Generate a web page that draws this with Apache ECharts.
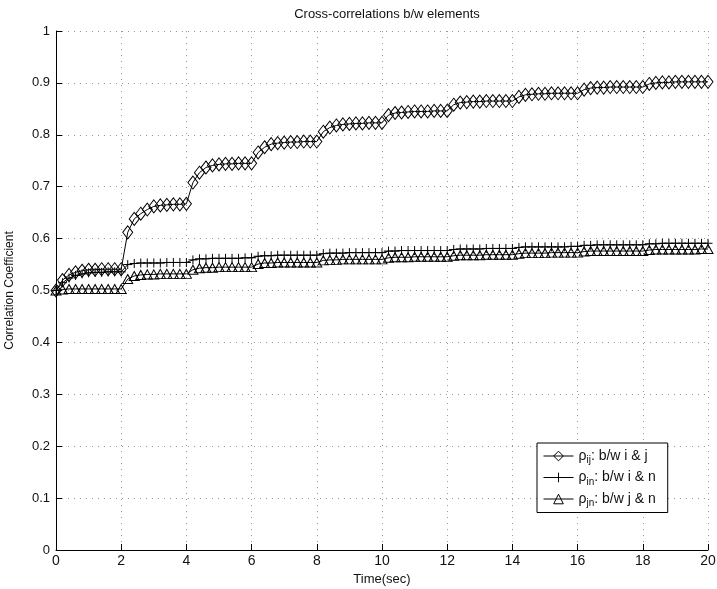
<!DOCTYPE html>
<html>
<head>
<meta charset="utf-8">
<script src="https://cdn.jsdelivr.net/npm/echarts@6/dist/echarts.min.js"></script>
<style>html,body{margin:0;padding:0;background:#fff}#c{width:717px;height:589px}</style>
</head>
<body>
<div id="c"></div>
<script>
var times = [0,0.2,0.4,0.6,0.8,1,1.2,1.4,1.6,1.8,2,2.2,2.4,2.6,2.8,3,3.2,3.4,3.6,3.8,4,4.2,4.4,4.6,4.8,5,5.2,5.4,5.6,5.8,6,6.2,6.4,6.6,6.8,7,7.2,7.4,7.6,7.8,8,8.2,8.4,8.6,8.8,9,9.2,9.4,9.6,9.8,10,10.2,10.4,10.6,10.8,11,11.2,11.4,11.6,11.8,12,12.2,12.4,12.6,12.8,13,13.2,13.4,13.6,13.8,14,14.2,14.4,14.6,14.8,15,15.2,15.4,15.6,15.8,16,16.2,16.4,16.6,16.8,17,17.2,17.4,17.6,17.8,18,18.2,18.4,18.6,18.8,19,19.2,19.4,19.6,19.8,20];

var rhoIJ = [0.500,0.520,0.530,0.535,0.538,0.540,0.540,0.541,0.541,0.541,0.541,
 0.612,0.638,0.648,0.656,0.662,0.664,0.665,0.666,0.666,0.667,
 0.708,0.727,0.737,0.741,0.743,0.744,0.744,0.745,0.745,0.745,
 0.766,0.776,0.782,0.784,0.785,0.786,0.786,0.787,0.787,0.787,
 0.806,0.814,0.818,0.820,0.821,0.822,0.822,0.823,0.823,0.823,
 0.838,0.842,0.843,0.844,0.845,0.845,0.845,0.846,0.846,0.846,
 0.858,0.862,0.863,0.864,0.864,0.865,0.865,0.865,0.865,0.865,
 0.873,0.877,0.878,0.879,0.879,0.880,0.880,0.880,0.880,0.880,
 0.887,0.890,0.891,0.891,0.892,0.892,0.892,0.892,0.892,0.892,
 0.898,0.900,0.901,0.901,0.902,0.902,0.902,0.902,0.902,0.902];

var rhoIN = [0.500,0.515,0.524,0.529,0.532,0.534,0.535,0.535,0.536,0.536,0.536,
 0.550,0.552,0.553,0.553,0.553,0.553,0.554,0.554,0.554,0.554,
 0.559,0.561,0.561,0.562,0.562,0.562,0.562,0.562,0.563,0.563,
 0.566,0.567,0.567,0.568,0.568,0.568,0.568,0.568,0.568,0.568,
 0.571,0.572,0.572,0.572,0.573,0.573,0.573,0.573,0.573,0.573,
 0.576,0.576,0.577,0.577,0.577,0.577,0.577,0.577,0.577,0.577,
 0.579,0.580,0.580,0.580,0.580,0.581,0.581,0.581,0.581,0.581,
 0.583,0.584,0.584,0.584,0.584,0.584,0.584,0.584,0.585,0.585,
 0.587,0.587,0.588,0.588,0.588,0.588,0.588,0.588,0.588,0.588,
 0.590,0.590,0.591,0.591,0.591,0.591,0.591,0.591,0.591,0.591];

var rhoJN = [0.500,0.502,0.503,0.503,0.503,0.503,0.503,0.503,0.503,0.503,0.503,
 0.522,0.528,0.530,0.531,0.531,0.532,0.532,0.532,0.532,0.532,
 0.540,0.543,0.544,0.544,0.545,0.545,0.545,0.545,0.545,0.545,
 0.551,0.553,0.553,0.554,0.554,0.554,0.554,0.554,0.554,0.554,
 0.558,0.559,0.559,0.560,0.560,0.560,0.560,0.560,0.560,0.560,
 0.563,0.564,0.564,0.564,0.565,0.565,0.565,0.565,0.565,0.565,
 0.567,0.568,0.568,0.568,0.568,0.569,0.569,0.569,0.569,0.569,
 0.571,0.572,0.572,0.572,0.572,0.573,0.573,0.573,0.573,0.573,
 0.575,0.576,0.576,0.576,0.576,0.576,0.576,0.576,0.576,0.576,
 0.578,0.579,0.579,0.579,0.579,0.579,0.579,0.579,0.580,0.580];

var seriesNames = ['rij', 'rin', 'rjn'];
var legendText = {
  rij: '{n|ρ}{s|ij}{n|: b/w i & j}',
  rin: '{n|ρ}{s|in}{n|: b/w i & n}',
  rjn: '{n|ρ}{s|jn}{n|: b/w j & n}'
};
var xTicks = {min: 0, max: 20, step: 2};
var yTicks = {min: 0, max: 1, step: 0.1};

function pairs(ys) { return times.map(function (t, i) { return [t, ys[i]]; }); }

var FONT = '"Liberation Sans", Arial, sans-serif';
var chart = echarts.init(document.getElementById('c'), null, {renderer: 'canvas'});
var gridLine = {show: true, lineStyle: {type: [1, 5], color: '#999', width: 1}};
var baseSeries = {
  type: 'line', showSymbol: true, animation: false,
  lineStyle: {color: '#000', width: 1},
  itemStyle: {color: 'rgba(0,0,0,0)', borderColor: '#000', borderWidth: 1},
  emphasis: {disabled: true}
};
chart.setOption({
  backgroundColor: '#fff',
  animation: false,
  title: {
    text: 'Cross-correlations b/w elements', left: 382, top: 3, textAlign: 'center',
    textStyle: {fontFamily: FONT, fontSize: 13, fontWeight: 'normal', color: '#111'}
  },
  grid: {left: 56, right: 9, top: 31, bottom: 39, containLabel: false, outerBoundsMode: 'none'},
  legend: {
    orient: 'vertical', left: 537, top: 443, width: 130,
    data: seriesNames,
    formatter: function (n) { return legendText[n]; },
    itemWidth: 30, itemHeight: 12, itemGap: 5,
    padding: [6, 12, 4, 6],
    borderColor: '#000', borderWidth: 1, backgroundColor: '#fff',
    lineStyle: {width: 1, color: '#000'},
    itemStyle: {borderWidth: 1, borderColor: '#000', color: 'rgba(0,0,0,0)'},
    textStyle: {
      fontFamily: FONT, color: '#111', fontSize: 14,
      rich: {
        n: {fontFamily: FONT, fontSize: 14, color: '#111'},
        s: {fontFamily: FONT, fontSize: 10, color: '#111', padding: [9, 0, 0, 0]}
      }
    }
  },
  xAxis: {
    type: 'value', min: xTicks.min, max: xTicks.max, interval: xTicks.step,
    name: 'Time(sec)', nameLocation: 'middle', nameGap: 23,
    nameTextStyle: {fontFamily: FONT, fontSize: 13, color: '#111'},
    axisLine: {show: true, onZero: false, lineStyle: {color: '#000', width: 1}},
    axisTick: {show: true, inside: true, length: 6, lineStyle: {color: '#000'}},
    axisLabel: {fontFamily: FONT, fontSize: 14, color: '#111', margin: 4},
    splitLine: gridLine
  },
  yAxis: {
    type: 'value', min: yTicks.min, max: yTicks.max, interval: yTicks.step,
    name: 'Correlation Coefficient', nameLocation: 'middle', nameGap: 40,
    nameTextStyle: {fontFamily: FONT, fontSize: 12, color: '#111'},
    axisLine: {show: true, onZero: false, lineStyle: {color: '#000', width: 1}},
    axisTick: {show: true, inside: true, length: 6, lineStyle: {color: '#000'}},
    axisLabel: {fontFamily: FONT, fontSize: 13, color: '#111', margin: 6,
      formatter: function (v) { return String(Math.round(v * 10) / 10); }},
    splitLine: gridLine
  },
  series: [
    Object.assign({}, baseSeries, {name: 'rij', data: pairs(rhoIJ), symbol: 'diamond', symbolSize: [10, 13]}),
    Object.assign({}, baseSeries, {name: 'rin', data: pairs(rhoIN), symbol: 'path://M0,5L10,5M5,0L5,10', symbolSize: 9}),
    Object.assign({}, baseSeries, {name: 'rjn', data: pairs(rhoJN), symbol: 'triangle', symbolSize: [10, 9]})
  ]
});
</script>
</body>
</html>
